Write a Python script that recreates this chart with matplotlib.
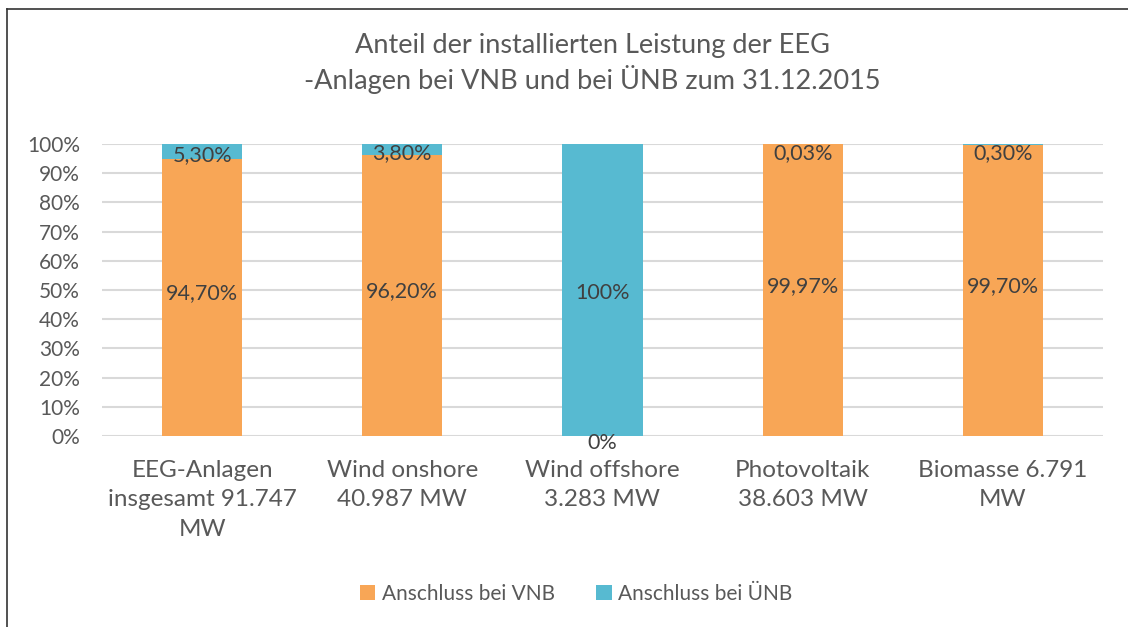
import matplotlib.pyplot as plt
import numpy as np
from matplotlib.lines import Line2D

# Data (percent shares)
categories = ['EEG-Anlagen\ninsgesamt 91.747\nMW', 'Wind onshore\n40.987 MW',
              'Wind offshore\n3.283 MW', 'Photovoltaik\n38.603 MW', 'Biomasse 6.791\nMW']
anschluss_vnb = [94.70, 96.20, 0.0, 99.97, 99.70]
anschluss_unb = [5.30, 3.80, 100.0, 0.03, 0.30]
series_names = ['Anschluss bei VNB', 'Anschluss bei ÜNB']
yticks = [0, 10, 20, 30, 40, 50, 60, 70, 80, 90, 100]

ORANGE = '#F8A656'
TEAL = '#57BAD1'
TXT = '#404040'
TICK = '#595959'

plt.rcParams['font.family'] = ['Lato', 'DejaVu Sans']


def fmt(v):
    if float(v).is_integer():
        return '%d%%' % v
    return ('%.2f%%' % v).replace('.', ',')


fig = plt.figure(figsize=(11.28, 6.27), dpi=100)
ax = fig.add_axes([102 / 1128, 1 - 436 / 627, (1103 - 102) / 1128, (436 - 144) / 627])

x = np.arange(len(categories))
vnb = np.array(anschluss_vnb)
unb = np.array(anschluss_unb)

ax.bar(x, vnb, width=0.4, color=ORANGE, label=series_names[0], zorder=3)
ax.bar(x, unb, bottom=vnb, width=0.4, color=TEAL, label=series_names[1], zorder=3)

for i in range(len(x)):
    # empty segments get their label just below the axis, like Excel does
    y1 = vnb[i] / 2 + 1.5 if vnb[i] > 0 else -2.5
    ax.text(x[i], y1, fmt(vnb[i]), ha='center', va='center', fontsize=15.5, color=TXT, zorder=4)
    y2 = min(vnb[i] + unb[i] / 2 - 1.0, 97.0)
    ax.text(x[i], y2, fmt(unb[i]), ha='center', va='center', fontsize=15.5, color=TXT, zorder=4)

ax.set_xlim(-0.5, len(x) - 0.5)
ax.set_ylim(0, 100)
ax.set_yticks(yticks)
ax.set_yticklabels(['%d%%' % t for t in yticks], fontsize=15, color=TICK)
ax.set_xticks(x)
ax.set_xticklabels(categories, fontsize=17.5, color=TICK, linespacing=1.5)
ax.tick_params(length=0)
ax.tick_params(axis='y', pad=16)
ax.tick_params(axis='x', pad=17)
ax.grid(axis='y', color='#D9D9D9', linewidth=1.5, zorder=0)
for s in ax.spines.values():
    s.set_visible(False)

fig.text(0.5 + 28 / 1128, 1 - 45 / 627, 'Anteil der installierten Leistung der EEG', ha='center', va='center',
         fontsize=19.5, color=TICK)
fig.text(0.5 + 28 / 1128, 1 - 80 / 627, '-Anlagen bei VNB und bei ÜNB zum 31.12.2015', ha='center', va='center',
         fontsize=19.5, color=TICK)

ax.legend(loc='center', bbox_to_anchor=(576 / 1128, 1 - 594 / 627), bbox_transform=fig.transFigure,
          ncol=2, frameon=False, fontsize=15, labelcolor=TICK, handlelength=0.75, handleheight=0.75,
          handletextpad=0.3, columnspacing=2.0)

# outer chart frame (left and top edges visible)
fig.add_artist(Line2D([7 / 1128, 7 / 1128], [0, 1 - 9 / 627], transform=fig.transFigure, color='#333333', lw=1.2))
fig.add_artist(Line2D([7 / 1128, 1], [1 - 9 / 627, 1 - 9 / 627], transform=fig.transFigure, color='#333333', lw=1.2))

fig.savefig('out.png', dpi=100)
